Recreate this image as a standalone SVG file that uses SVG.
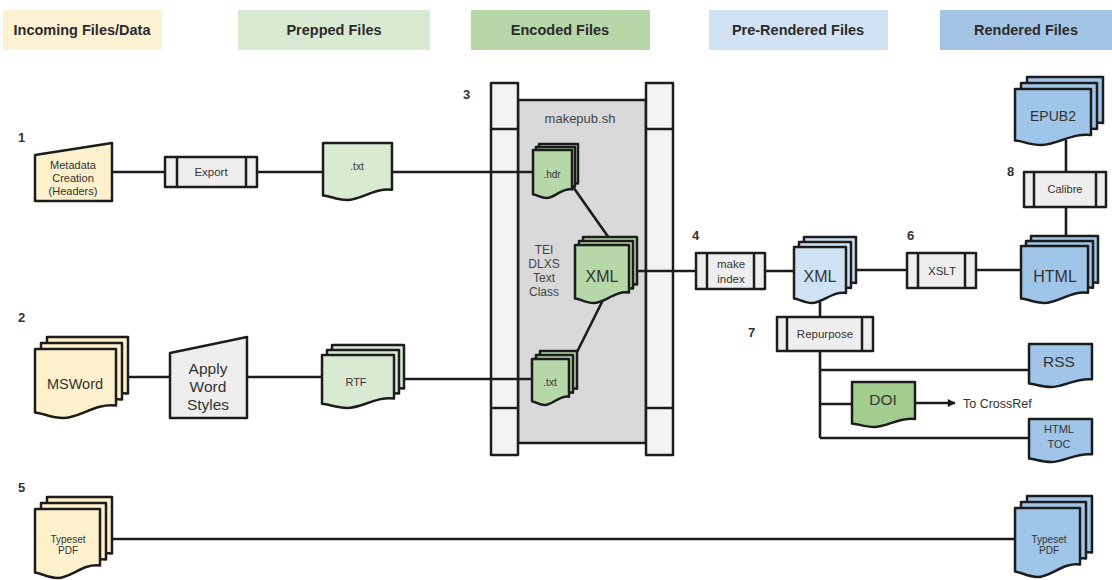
<svg xmlns="http://www.w3.org/2000/svg" width="1112" height="580" viewBox="0 0 1112 580">
<style>
text{font-family:"Liberation Sans",Arial,sans-serif;fill:#333}
.hd{font-size:14.5px;font-weight:bold;text-anchor:middle;fill:#2b2b2b}
.num{font-size:13px;font-weight:bold;fill:#333}
.t{text-anchor:middle}
.s{stroke:#1c1c1c;stroke-width:2.5;stroke-linejoin:round}
.ln{stroke:#1c1c1c;stroke-width:2.6;fill:none}
.yl{fill:#fdf0cc}
.lg{fill:#d9ead3}
.mg{fill:#b6d7a8}
.dg{fill:#a3cd8f}
.lb{fill:#cfe2f3}
.bl{fill:#9fc5e8}
.gy{fill:#eeeeee}
.bar{fill:#f3f3f3}
</style>
<defs>
<marker id="arr" viewBox="0 0 10 10" refX="9" refY="5" markerWidth="10" markerHeight="8" markerUnits="userSpaceOnUse" orient="auto">
<path d="M0,0 L10,5 L0,10 Z" fill="#1c1c1c"/>
</marker>
</defs>

<g id="headers">
<rect x="3" y="10" width="159" height="40" fill="#fdf1d3"/>
<text class="hd" x="82" y="35">Incoming Files/Data</text>
<rect x="238" y="10" width="192" height="40" fill="#d9ead3"/>
<text class="hd" x="334" y="35">Prepped Files</text>
<rect x="471" y="10" width="179" height="40" fill="#b6d7a8"/>
<text class="hd" x="560" y="35">Encoded Files</text>
<rect x="709" y="10" width="179" height="40" fill="#d0e2f3"/>
<text class="hd" x="798" y="35">Pre-Rendered Files</text>
<rect x="940" y="10" width="172" height="40" fill="#a4c4e6"/>
<text class="hd" x="1026" y="35">Rendered Files</text>
</g>

<g id="step-numbers">
<text class="num" x="18" y="142">1</text>
<text class="num" x="18" y="322">2</text>
<text class="num" x="463" y="99">3</text>
<text class="num" x="692" y="240">4</text>
<text class="num" x="18" y="492">5</text>
<text class="num" x="907" y="240">6</text>
<text class="num" x="748" y="337">7</text>
<text class="num" x="1007" y="176">8</text>
</g>

<g id="makepub">
<rect class="s" x="518" y="100" width="128" height="343" fill="#d9d9d9"/>
<rect class="s bar" x="491" y="83" width="27" height="372"/>
<line class="s" x1="491" y1="129" x2="518" y2="129"/>
<line class="s" x1="491" y1="408" x2="518" y2="408"/>
<rect class="s bar" x="646" y="83" width="27" height="372"/>
<line class="s" x1="646" y1="129" x2="673" y2="129"/>
<line class="s" x1="646" y1="408" x2="673" y2="408"/>
<text class="t" x="580" y="123" style="font-size:13px;fill:#444">makepub.sh</text>
<text class="t" x="544" y="254" style="font-size:12px;fill:#444">TEI</text>
<text class="t" x="544" y="268" style="font-size:12px;fill:#444">DLXS</text>
<text class="t" x="544" y="282" style="font-size:12px;fill:#444">Text</text>
<text class="t" x="544" y="296" style="font-size:12px;fill:#444">Class</text>
</g>

<g id="connectors">
<path class="ln" d="M112,172H165M257,172H323M392,172H533"/>
<path class="ln" d="M571,184L609,238M603,300L577,352"/>
<path class="ln" d="M637,271H696M765,271H794M856,270H907M976,270H1021"/>
<path class="ln" d="M1066,140V172M1066,207V236"/>
<path class="ln" d="M820,302V317M820,351V438M820,370H1029M820,404H852M820,438H1029"/>
<path class="ln" d="M915,403H955" marker-end="url(#arr)"/>
<path class="ln" d="M128,377H170M247,377H322M404,379H532"/>
<path class="ln" d="M112,539H1015"/>
</g>

<g id="metadata">
<path class="s yl" d="M35,155L112,143V201H35Z"/>
<text class="t" x="73" y="169" style="font-size:11px">Metadata</text>
<text class="t" x="73" y="182" style="font-size:11px">Creation</text>
<text class="t" x="73" y="195" style="font-size:11px">(Headers)</text>
</g>

<g id="export">
<rect class="s gy" x="165" y="157" width="92" height="30"/>
<path class="s" d="M177,157V187M246,157V187"/>
<text class="t" x="211" y="176" style="font-size:11.5px">Export</text>
</g>

<g id="txt-prepped">
<path class="s lg" transform="translate(323,143)" d="M0,0H69V46.7C51.8,44.5 38,57 24.2,57C13.8,57 6.9,53 0,52.4Z"/>
<text class="t" x="357" y="170" style="font-size:10px">.txt</text>
</g>

<g id="hdr">
<g transform="translate(533,150)">
<path class="s mg" transform="translate(6,-6)" d="M0,0H39V39.4C29.3,37.4 21.5,48 13.7,48C7.8,48 3.9,44.6 0,44.2Z"/>
<path class="s mg" transform="translate(3,-3)" d="M0,0H39V39.4C29.3,37.4 21.5,48 13.7,48C7.8,48 3.9,44.6 0,44.2Z"/>
<path class="s mg" d="M0,0H39V39.4C29.3,37.4 21.5,48 13.7,48C7.8,48 3.9,44.6 0,44.2Z"/>
</g>
<text class="t" x="552" y="178" style="font-size:10px">.hdr</text>
</g>

<g id="xml-encoded">
<g transform="translate(575,245)">
<path class="s mg" transform="translate(8,-8)" d="M0,0H54V47.6C40.5,45.2 29.7,58 18.9,58C10.8,58 5.4,53.9 0,53.4Z"/>
<path class="s mg" transform="translate(4,-4)" d="M0,0H54V47.6C40.5,45.2 29.7,58 18.9,58C10.8,58 5.4,53.9 0,53.4Z"/>
<path class="s mg" d="M0,0H54V47.6C40.5,45.2 29.7,58 18.9,58C10.8,58 5.4,53.9 0,53.4Z"/>
</g>
<text class="t" x="602" y="282" style="font-size:16px">XML</text>
</g>

<g id="txt-encoded">
<g transform="translate(532,359)">
<path class="s mg" transform="translate(8,-8)" d="M0,0H37V37.7C27.8,35.9 20.4,46 13,46C7.4,46 3.7,42.8 0,42.3Z"/>
<path class="s mg" transform="translate(4,-4)" d="M0,0H37V37.7C27.8,35.9 20.4,46 13,46C7.4,46 3.7,42.8 0,42.3Z"/>
<path class="s mg" d="M0,0H37V37.7C27.8,35.9 20.4,46 13,46C7.4,46 3.7,42.8 0,42.3Z"/>
</g>
<text class="t" x="550" y="386" style="font-size:10px">.txt</text>
</g>

<g id="msword">
<g transform="translate(35,349)">
<path class="s yl" transform="translate(12,-12)" d="M0,0H81V56.6C60.8,53.8 44.6,69 28.4,69C16.2,69 8.1,64.2 0,63.5Z"/>
<path class="s yl" transform="translate(6,-6)" d="M0,0H81V56.6C60.8,53.8 44.6,69 28.4,69C16.2,69 8.1,64.2 0,63.5Z"/>
<path class="s yl" d="M0,0H81V56.6C60.8,53.8 44.6,69 28.4,69C16.2,69 8.1,64.2 0,63.5Z"/>
</g>
<text class="t" x="75" y="389" style="font-size:14.5px">MSWord</text>
</g>

<g id="apply-styles">
<path class="s gy" d="M170,353L247,337V418H170Z"/>
<text class="t" x="208" y="374" style="font-size:15.5px">Apply</text>
<text class="t" x="208" y="392" style="font-size:15.5px">Word</text>
<text class="t" x="208" y="410" style="font-size:15.5px">Styles</text>
</g>

<g id="rtf">
<g transform="translate(322,355)">
<path class="s lg" transform="translate(10,-10)" d="M0,0H72V43.5C54,41.3 39.6,53 25.2,53C14.4,53 7.2,49.3 0,48.8Z"/>
<path class="s lg" transform="translate(5,-5)" d="M0,0H72V43.5C54,41.3 39.6,53 25.2,53C14.4,53 7.2,49.3 0,48.8Z"/>
<path class="s lg" d="M0,0H72V43.5C54,41.3 39.6,53 25.2,53C14.4,53 7.2,49.3 0,48.8Z"/>
</g>
<text class="t" x="356" y="386" style="font-size:11px">RTF</text>
</g>

<g id="make-index">
<rect class="s gy" x="696" y="253" width="69" height="36"/>
<path class="s" d="M707,253V289M754,253V289"/>
<text class="t" x="731" y="268" style="font-size:11.5px">make</text>
<text class="t" x="731" y="283" style="font-size:11.5px">index</text>
</g>

<g id="xml-prerendered">
<g transform="translate(794,247)">
<path class="s lb" transform="translate(10,-10)" d="M0,0H52V45.9C39,43.7 28.6,56 18.2,56C10.4,56 5.2,52.1 0,51.5Z"/>
<path class="s lb" transform="translate(5,-5)" d="M0,0H52V45.9C39,43.7 28.6,56 18.2,56C10.4,56 5.2,52.1 0,51.5Z"/>
<path class="s lb" d="M0,0H52V45.9C39,43.7 28.6,56 18.2,56C10.4,56 5.2,52.1 0,51.5Z"/>
</g>
<text class="t" x="820" y="282" style="font-size:16px">XML</text>
</g>

<g id="xslt">
<rect class="s gy" x="907" y="253" width="69" height="35"/>
<path class="s" d="M918,253V288M965,253V288"/>
<text class="t" x="942" y="275" style="font-size:11.5px">XSLT</text>
</g>

<g id="html">
<g transform="translate(1021,246)">
<path class="s bl" transform="translate(10,-10)" d="M0,0H67V46.7C50.3,44.5 36.9,57 23.5,57C13.4,57 6.7,53 0,52.4Z"/>
<path class="s bl" transform="translate(5,-5)" d="M0,0H67V46.7C50.3,44.5 36.9,57 23.5,57C13.4,57 6.7,53 0,52.4Z"/>
<path class="s bl" d="M0,0H67V46.7C50.3,44.5 36.9,57 23.5,57C13.4,57 6.7,53 0,52.4Z"/>
</g>
<text class="t" x="1055" y="282" style="font-size:16px">HTML</text>
</g>

<g id="calibre">
<rect class="s gy" x="1024" y="172" width="82" height="35"/>
<path class="s" d="M1034,172V207M1096,172V207"/>
<text class="t" x="1065" y="193" style="font-size:11px">Calibre</text>
</g>

<g id="epub2">
<g transform="translate(1015,89)">
<path class="s bl" transform="translate(12,-12)" d="M0,0H76V45.9C57,43.7 41.8,56 26.6,56C15.2,56 7.6,52.1 0,51.5Z"/>
<path class="s bl" transform="translate(6,-6)" d="M0,0H76V45.9C57,43.7 41.8,56 26.6,56C15.2,56 7.6,52.1 0,51.5Z"/>
<path class="s bl" d="M0,0H76V45.9C57,43.7 41.8,56 26.6,56C15.2,56 7.6,52.1 0,51.5Z"/>
</g>
<text class="t" x="1053" y="121" style="font-size:14px">EPUB2</text>
</g>

<g id="repurpose">
<rect class="s gy" x="777" y="317" width="96" height="34"/>
<path class="s" d="M787,317V351M862,317V351"/>
<text class="t" x="825" y="338" style="font-size:11.5px">Repurpose</text>
</g>

<g id="rss">
<path class="s bl" transform="translate(1029,344)" d="M0,0H63V35.3C47.3,33.5 34.7,43 22.1,43C12.6,43 6.3,40 0,39.6Z"/>
<text class="t" x="1059" y="367" style="font-size:15.5px">RSS</text>
</g>

<g id="doi">
<path class="s dg" transform="translate(852,382)" d="M0,0H63V36.9C47.3,35.1 34.7,45 22.1,45C12.6,45 6.3,41.9 0,41.4Z"/>
<text class="t" x="883" y="405" style="font-size:15.5px">DOI</text>
</g>

<text x="963" y="408" style="font-size:12.5px">To CrossRef</text>

<g id="html-toc">
<path class="s bl" transform="translate(1029,419)" d="M0,0H63V35.3C47.3,33.5 34.7,43 22.1,43C12.6,43 6.3,40 0,39.6Z"/>
<text class="t" x="1059" y="433" style="font-size:11px">HTML</text>
<text class="t" x="1059" y="448" style="font-size:11px">TOC</text>
</g>

<g id="typeset-pdf-in">
<g transform="translate(35,509)">
<path class="s yl" transform="translate(12,-12)" d="M0,0H65V56.6C48.8,53.8 35.8,69 22.8,69C13,69 6.5,64.2 0,63.5Z"/>
<path class="s yl" transform="translate(6,-6)" d="M0,0H65V56.6C48.8,53.8 35.8,69 22.8,69C13,69 6.5,64.2 0,63.5Z"/>
<path class="s yl" d="M0,0H65V56.6C48.8,53.8 35.8,69 22.8,69C13,69 6.5,64.2 0,63.5Z"/>
</g>
<text class="t" x="68" y="543" style="font-size:10px">Typeset</text>
<text class="t" x="68" y="554" style="font-size:10px">PDF</text>
</g>

<g id="typeset-pdf-out">
<g transform="translate(1015,508)">
<path class="s bl" transform="translate(12,-12)" d="M0,0H65V56.6C48.8,53.8 35.8,69 22.8,69C13,69 6.5,64.2 0,63.5Z"/>
<path class="s bl" transform="translate(6,-6)" d="M0,0H65V56.6C48.8,53.8 35.8,69 22.8,69C13,69 6.5,64.2 0,63.5Z"/>
<path class="s bl" d="M0,0H65V56.6C48.8,53.8 35.8,69 22.8,69C13,69 6.5,64.2 0,63.5Z"/>
</g>
<text class="t" x="1049" y="543" style="font-size:10px">Typeset</text>
<text class="t" x="1049" y="554" style="font-size:10px">PDF</text>
</g>
</svg>
